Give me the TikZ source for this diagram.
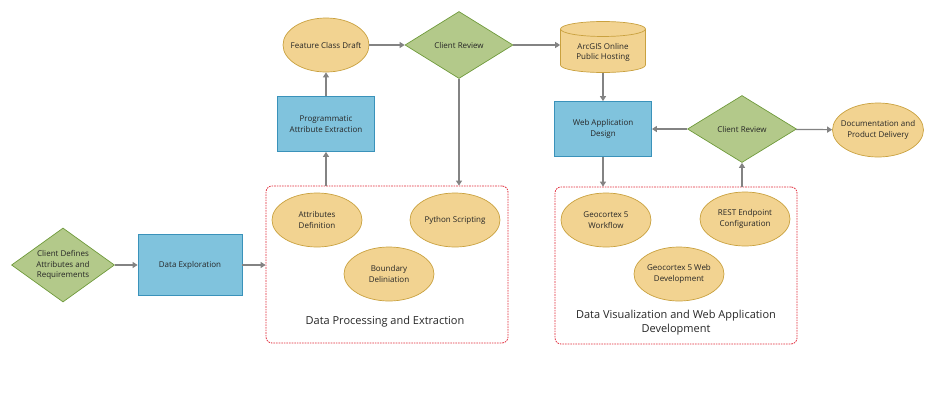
\documentclass[tikz,border=0pt]{standalone}
\usepackage{fontspec}
\setmainfont{Open Sans}
\usetikzlibrary{shapes.geometric,positioning,arrows.meta}
\definecolor{greenfill}{HTML}{B3C98A}
\definecolor{greenline}{HTML}{6F9A3B}
\definecolor{bluefill}{HTML}{80C3DD}
\definecolor{blueline}{HTML}{3A92BA}
\definecolor{goldfill}{HTML}{F2D391}
\definecolor{goldline}{HTML}{C9A13F}
\definecolor{groupred}{HTML}{E02A3A}
\definecolor{linkgray}{HTML}{838383}
\definecolor{textgray}{HTML}{262626}

\begin{document}
\begin{tikzpicture}[x=1pt,y=-1pt,
  every node/.style={text=textgray,align=center,font=\fontsize{8}{10.8}\selectfont},
  decision/.style={diamond,draw=greenline,fill=greenfill,line width=0.7pt,inner sep=0pt,aspect=1.5,minimum width=108pt,minimum height=67pt},
  process/.style={rectangle,draw=blueline,fill=bluefill,line width=0.8pt,minimum width=97pt,minimum height=55pt},
  task/.style={ellipse,draw=goldline,fill=goldfill,line width=0.7pt,inner xsep=-12pt,inner ysep=-4pt,minimum width=90pt,minimum height=54pt},
  store/.style={cylinder,shape border rotate=90,aspect=0.25,draw=goldline,fill=goldfill,line width=0.7pt,minimum width=85pt,minimum height=51pt,anchor=shape center},
  group/.style={draw=groupred,line width=0.8pt,dash pattern=on 1.6pt off 1pt,rounded corners=6pt,minimum width=242pt,minimum height=157pt},
  grouplabel/.style={font=\fontsize{11}{14}\selectfont},
  link/.style={draw=linkgray,line width=1.2pt,-{Triangle[length=5pt,width=6pt]}}]

  \useasboundingbox (0,0) rectangle (936,410);

  \node[group] (dpe) at (387,264.5) {};
  \node[group] (dvw) at (676,265.5) {};

  \node[decision,minimum width=103pt,minimum height=74pt] (client) at (63,265) {Client Defines\\Attributes and\\Requirements};
  \node[process,minimum width=104pt,minimum height=61pt] (explore) at (190,265) {Data Exploration};

  \node[task] (attrdef) at (317,220) {Attributes\\Definition};
  \node[task] (python) at (455,220) {Python Scripting};
  \node[task] (boundary) at (389,274) {Boundary\\Deliniation};
  \node[grouplabel] (dpelabel) at (385,322) {Data Processing and Extraction};

  \node[process] (extract) at (326,124) {Programmatic\\Attribute Extraction};
  \node[task,minimum width=86pt] (draft) at (326,45) {Feature Class Draft};
  \node[decision] (review1) at (459,45) {Client Review};
  \node[store] (arcgis) at (603,47) {ArcGIS Online\\Public Hosting};
  \node[process] (webapp) at (603,129) {Web Application\\Design};
  \node[decision,minimum width=109pt] (review2) at (742,129) {Client Review};
  \node[task,minimum width=91pt] (delivery) at (878,130) {Documentation and\\Product Delivery};

  \node[task] (workflow) at (606,220) {Geocortex 5\\Workflow};
  \node[task] (rest) at (745,219) {REST Endpoint\\Configuration};
  \node[task] (webdev) at (679,274) {Geocortex 5 Web\\Development};
  \node[grouplabel] (dvwlabel) at (676,323) {Data Visualization and Web Application\\Development};

  \draw[link] (client) -- (explore);
  \draw[link] (explore) -- (explore -| dpe.west);
  \draw[link] (extract |- dpe.north) -- (extract);
  \draw[link] (extract) -- (draft);
  \draw[link] (draft) -- (review1);
  \draw[link] (review1) -- (review1 -| arcgis.west);
  \draw[link] (review1) -- (review1 |- dpe.north);
  \draw[link] (arcgis) -- (webapp);
  \draw[link] (webapp) -- (webapp |- dvw.north);
  \draw[link] (review2 |- dvw.north) -- (review2);
  \draw[link] (review2) -- (webapp);
  \draw[link] (review2) -- (delivery);
\end{tikzpicture}
\end{document}
